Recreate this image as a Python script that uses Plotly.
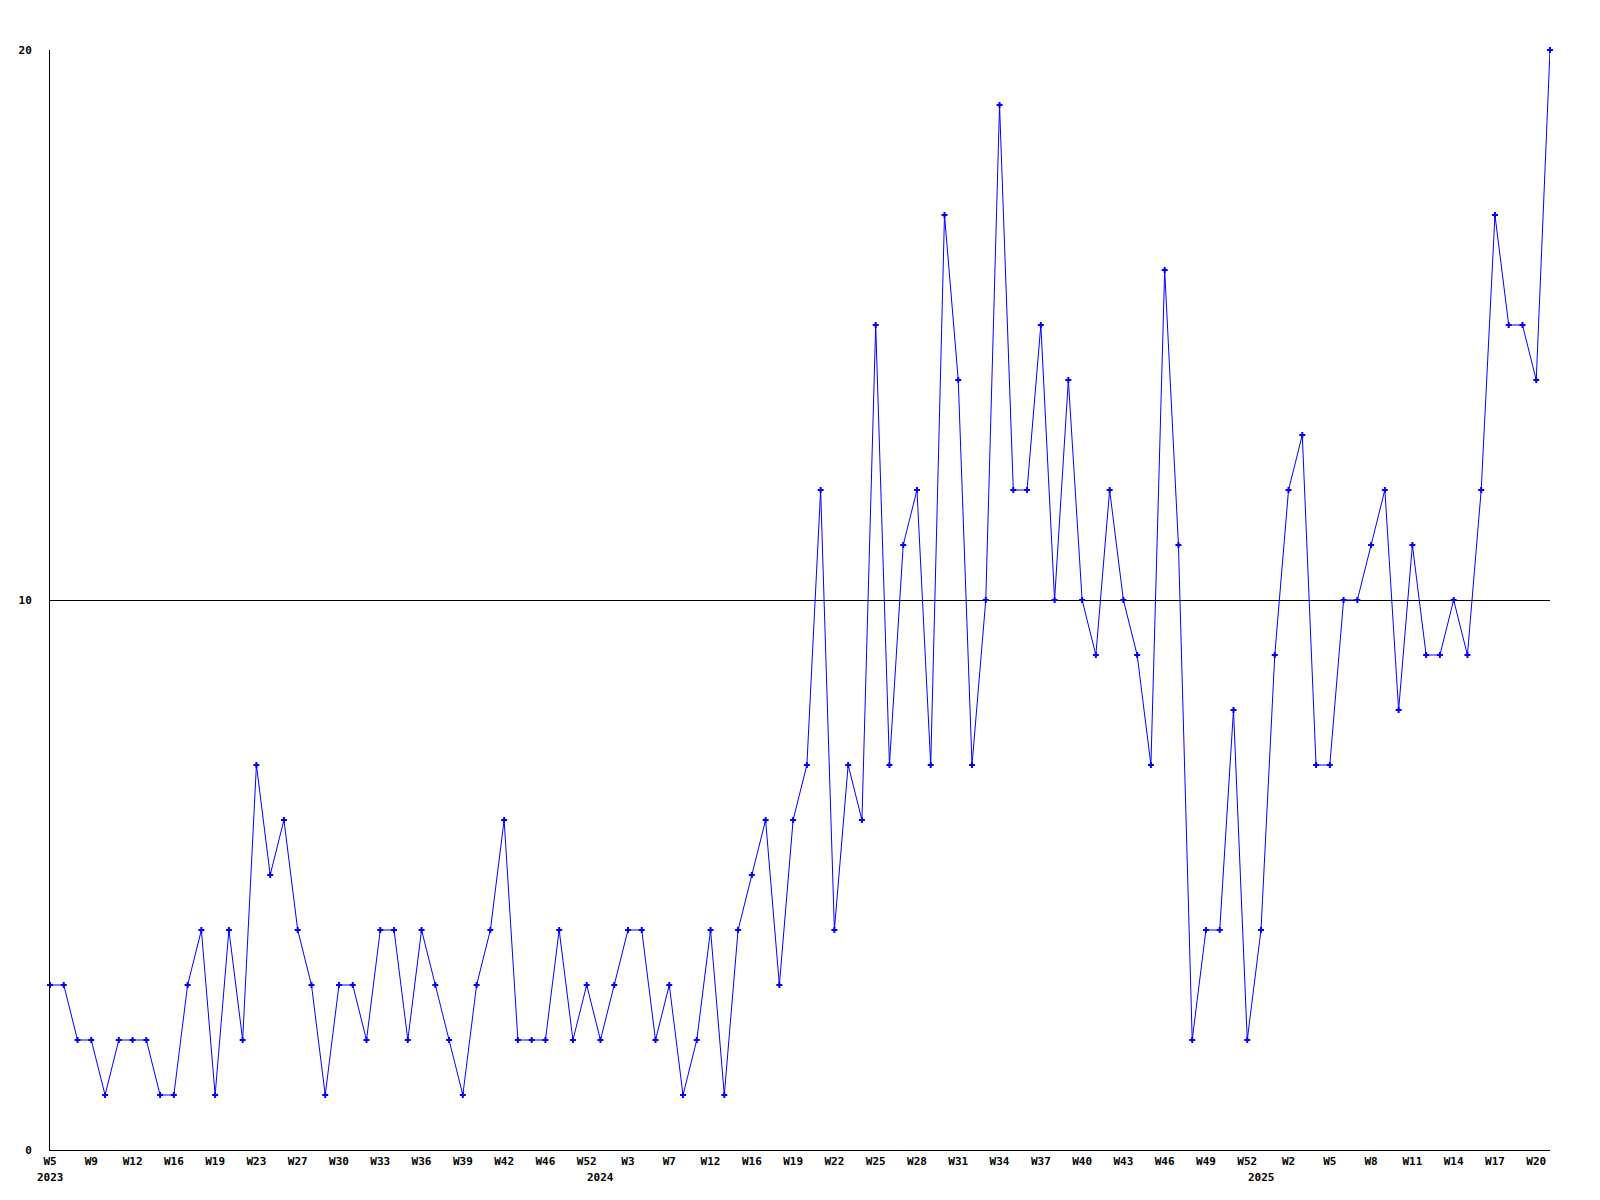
import plotly.graph_objects as go

values = [3, 3, 2, 2, 1, 2, 2, 2, 1, 1,
          3, 4, 1, 4, 2, 7, 5, 6, 4, 3,
          1, 3, 3, 2, 4, 4, 2, 4, 3, 2,
          1, 3, 4, 6, 2, 2, 2, 4, 2, 3,
          2, 3, 4, 4, 2, 3, 1, 2, 4, 1,
          4, 5, 6, 3, 6, 7, 12, 4, 7, 6,
          15, 7, 11, 12, 7, 17, 14, 7, 10, 19,
          12, 12, 15, 10, 14, 10, 9, 12, 10, 9,
          7, 16, 11, 2, 4, 4, 8, 2, 4, 9,
          12, 13, 7, 7, 10, 10, 11, 12, 8, 11,
          9, 9, 10, 9, 12, 17, 15, 15, 14, 20]

week_labels = ["W5", "W9", "W12", "W16", "W19", "W23", "W27", "W30", "W33", "W36",
               "W39", "W42", "W46", "W52", "W3", "W7", "W12", "W16", "W19", "W22",
               "W25", "W28", "W31", "W34", "W37", "W40", "W43", "W46", "W49", "W52",
               "W2", "W5", "W8", "W11", "W14", "W17", "W20"]
label_step = 3

years = ["2023", "2024", "2025"]
year_start_index = [0, 40, 88]

y_ticks = [0, 10, 20]

x = list(range(len(values)))
tick_positions = [i * label_step for i in range(len(week_labels))]

FONT = dict(family="DejaVu Sans Mono", size=11, color="black", weight="bold")

fig = go.Figure()
fig.add_trace(go.Scatter(
    x=x, y=values, mode="lines+markers",
    line=dict(color="#0000ff", width=1),
    marker=dict(symbol="cross", size=5, color="#0000ff", line=dict(width=0)),
    cliponaxis=False, hoverinfo="skip",
))

for yr, idx in zip(years, year_start_index):
    fig.add_annotation(x=idx, y=0, xref="x", yref="paper", text=yr,
                       showarrow=False, yanchor="top", yshift=-19,
                       font=FONT)

fig.update_layout(
    width=1584, height=1184,
    margin=dict(l=42, r=42, t=42, b=42),
    paper_bgcolor="white", plot_bgcolor="white",
    showlegend=False,
    font=FONT,
    xaxis=dict(range=[0, len(values) - 1], tickvals=tick_positions, ticktext=week_labels,
               showgrid=False, zeroline=False, showline=True, linecolor="black",
               linewidth=1, ticks="", tickfont=FONT, tickangle=0, ticklabelstandoff=1),
    yaxis=dict(range=[0, 20], tickvals=y_ticks, ticktext=[str(v) for v in y_ticks],
               showgrid=True, gridcolor="black", gridwidth=1, zeroline=False,
               showline=True, linecolor="black", linewidth=1, ticks="",
               tickfont=FONT, ticklabelstandoff=15),
)

fig.write_html("out.html", config={"displayModeBar": False})
